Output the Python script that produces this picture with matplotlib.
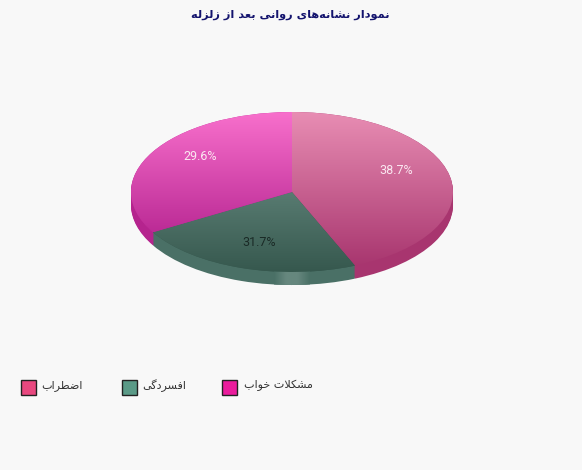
import numpy as np
import matplotlib
matplotlib.use("Agg")
import matplotlib.pyplot as plt
from matplotlib.colors import LinearSegmentedColormap
from matplotlib.patches import Rectangle

W, H = 582, 470

title = "نمودار نشانه‌های روانی بعد از زلزله"

# order is clockwise from 12 o'clock, as the slices are drawn
categories = ["اضطراب", "افسردگی", "مشکلات خواب"]
percent_labels = ["38.7%", "31.7%", "29.6%"]
# the picture does not draw the slices in proportion to their labels,
# so these are the shares
drawn_shares = [43.6, 23.0, 33.4]

top_colors = [("#E88DB3", "#A8366F"), ("#587B71", "#36584E"), ("#F870CC", "#BC2B96")]
side_colors = ["#A8356F", "#4A7066", "#B5248E"]
legend_colors = ["#E8487F", "#5A9A87", "#EA1C9C"]
label_colors = ["#FBE8F1", "#1A2A26", "#FBE8F1"]

label_pos = [(396, 170), (259, 243), (200, 156)]
legend_x = [20.5, 121.5, 222.5]

# first code point of each letter's presentation forms (isolated, final, initial, medial)
FORMS = {
    "ا": (0xFE8D, 2), "ب": (0xFE8F, 4), "پ": (0xFB56, 4), "ت": (0xFE95, 4),
    "خ": (0xFEA5, 4), "د": (0xFEA9, 2), "ر": (0xFEAD, 2), "ز": (0xFEAF, 2),
    "س": (0xFEB1, 4), "ش": (0xFEB5, 4), "ض": (0xFEBD, 4), "ط": (0xFEC1, 4),
    "ع": (0xFEC9, 4), "ف": (0xFED1, 4), "ک": (0xFB8E, 4), "گ": (0xFB92, 4),
    "ل": (0xFEDD, 4), "م": (0xFEE1, 4), "ن": (0xFEE5, 4), "ه": (0xFEE9, 4),
    "و": (0xFEED, 2), "ی": (0xFBFC, 4),
}


def shape(text):
    # matplotlib does no Arabic shaping, so pick the joined forms and reverse
    out = []
    i = 0
    while i < len(text):
        c = text[i]
        if c not in FORMS:
            i += 1
            if c != "\u200c":
                out.append(c)
            continue
        prev = text[i - 1] if i > 0 else ""
        joins_prev = prev in FORMS and FORMS[prev][1] == 4
        if c == "ل" and text[i + 1:i + 2] == "ا":
            out.append(chr(0xFEFC if joins_prev else 0xFEFB))
            i += 2
            continue
        base, count = FORMS[c]
        nxt = text[i + 1] if i + 1 < len(text) else ""
        joins_next = count == 4 and nxt in FORMS
        if joins_prev and joins_next:
            out.append(chr(base + 3))
        elif joins_next:
            out.append(chr(base + 2))
        elif joins_prev:
            out.append(chr(base + 1))
        else:
            out.append(chr(base))
        i += 1
    return "".join(reversed(out))


def px(x, y):
    return x / W, 1 - y / H


plt.rcParams["font.family"] = ["DejaVu Sans"]
fig = plt.figure(figsize=(W / 100, H / 100), dpi=100, facecolor="#F8F8F8")

# pie is centred at (292, 192), 161 px wide radius and 80 px tall radius
ax = fig.add_axes([(292 - 1.05 * 161) / W, 1 - (192 + 1.3 * 80) / H, 2.1 * 161 / W, 2.35 * 80 / H])

# side wall: stacked copies going down
depth = 13
for d in range(depth, 0, -1):
    side, _ = ax.pie(drawn_shares, colors=side_colors, startangle=90, counterclock=False,
                     center=(0, -d / 80), radius=1)
    if d == depth:
        green_side = side[1]

top, _ = ax.pie(drawn_shares, colors=[c[1] for c in top_colors], startangle=90,
                counterclock=False, radius=1)
ax.set_aspect("auto")
ax.set_xlim(-1.05, 1.05)
ax.set_ylim(-1.3, 1.05)
ax.axis("off")

# light strip on the front of the green wall
strip = LinearSegmentedColormap.from_list("strip", ["#4A7066", "#66877E", "#66877E", "#4A7066"])
im = ax.imshow(np.linspace(0, 1, 64)[None, :], cmap=strip, aspect="auto", zorder=1.5,
               extent=[(274 - 292) / 161, (310 - 292) / 161, -1.3, -0.9])
im.set_clip_path(green_side)

# vertical gradient on each top face
for wedge, (c0, c1) in zip(top, top_colors):
    box = ax.transData.inverted().transform_bbox(wedge.get_window_extent())
    cmap = LinearSegmentedColormap.from_list("face", [c0, c1])
    im = ax.imshow(np.linspace(0, 1, 128)[:, None], cmap=cmap, aspect="auto", zorder=2,
                   extent=[box.x0, box.x1, box.y0, box.y1])
    im.set_clip_path(wedge)
ax.set_xlim(-1.05, 1.05)
ax.set_ylim(-1.3, 1.05)

for text, pos, color in zip(percent_labels, label_pos, label_colors):
    x, y = px(*pos)
    fig.text(x, y, text, color=color, fontsize=9, family="Roboto", ha="center", va="center")

x, y = px(290, 15)
fig.text(x, y, shape(title), color="#14146E", fontsize=8.2, fontweight="bold",
         ha="center", va="center")

for name, color, lx in zip(categories, legend_colors, legend_x):
    x, y = px(lx, 395)
    fig.add_artist(Rectangle((x, y), 15 / W, 15 / H, transform=fig.transFigure,
                             facecolor=color, edgecolor="#222222", linewidth=1))
    x, y = px(lx + 21, 385.5)
    fig.text(x, y, shape(name), color="#333333", fontsize=8, ha="left", va="center")

fig.savefig("out.png", dpi=100, facecolor=fig.get_facecolor())
